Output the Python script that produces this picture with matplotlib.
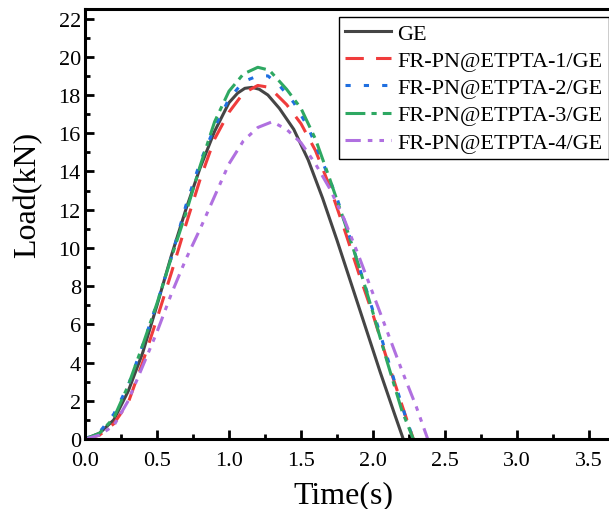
import matplotlib.pyplot as plt
from matplotlib.ticker import MultipleLocator

plt.rcParams['font.family'] = ['Liberation Serif', 'DejaVu Serif']

# values (time in s, load in kN)
t_ge = [0, 0.1, 0.2, 0.3, 0.4, 0.5, 0.6, 0.7, 0.8, 0.9, 1.0, 1.06, 1.11, 1.16,
        1.21, 1.27, 1.35, 1.45, 1.55, 1.65, 1.75, 1.85, 1.95, 2.05, 2.15, 2.21]
load_ge = [0, 0.3, 1.0, 2.5, 4.5, 7.0, 9.6, 12.0, 14.2, 16.1, 17.6, 18.1, 18.35, 18.4,
           18.3, 18.0, 17.3, 16.2, 14.6, 12.6, 10.4, 8.1, 5.8, 3.5, 1.3, 0]

t_fr1 = [0, 0.1, 0.2, 0.3, 0.4, 0.5, 0.6, 0.7, 0.8, 0.9, 1.0, 1.1, 1.2, 1.28,
         1.4, 1.5, 1.6, 1.7, 1.8, 1.9, 2.0, 2.1, 2.2, 2.28]
load_fr1 = [0, 0.2, 0.8, 1.9, 4.0, 6.3, 8.7, 11.2, 13.6, 15.7, 17.1, 18.1, 18.5, 18.4,
            17.5, 16.5, 15.1, 13.2, 11.0, 8.7, 6.5, 4.1, 1.8, 0]

t_fr2 = [0, 0.1, 0.2, 0.3, 0.4, 0.5, 0.6, 0.7, 0.8, 0.9, 1.0, 1.1, 1.2, 1.27,
         1.35, 1.45, 1.55, 1.65, 1.75, 1.85, 1.95, 2.05, 2.15, 2.22, 2.28]
load_fr2 = [0, 0.35, 1.3, 2.8, 4.9, 7.1, 9.5, 12.2, 14.5, 16.3, 17.8, 18.7, 19.0, 19.0,
            18.5, 17.6, 16.3, 14.5, 12.6, 10.3, 7.9, 5.5, 3.0, 1.3, 0]

t_fr3 = [0, 0.1, 0.2, 0.3, 0.4, 0.5, 0.6, 0.7, 0.8, 0.9, 1.0, 1.1, 1.2, 1.28,
         1.4, 1.5, 1.6, 1.7, 1.8, 1.9, 2.0, 2.1, 2.2, 2.28]
load_fr3 = [0, 0.3, 1.1, 2.8, 4.9, 7.1, 9.5, 11.8, 14.3, 16.6, 18.2, 19.1, 19.45, 19.3,
            18.3, 17.3, 15.7, 13.6, 11.4, 9.1, 6.6, 4.0, 1.5, 0]

t_fr4 = [0, 0.1, 0.2, 0.3, 0.4, 0.5, 0.6, 0.7, 0.8, 0.9, 1.0, 1.1, 1.2, 1.3,
         1.4, 1.5, 1.6, 1.7, 1.8, 1.9, 2.0, 2.1, 2.2, 2.3, 2.38]
load_fr4 = [0, 0.2, 0.7, 2.0, 3.8, 5.6, 7.6, 9.4, 11.0, 12.7, 14.4, 15.6, 16.3, 16.6,
            16.2, 15.5, 14.4, 13.1, 11.5, 9.6, 7.6, 5.6, 3.6, 1.7, 0]

labels = ['GE', 'FR-PN@ETPTA-1/GE', 'FR-PN@ETPTA-2/GE',
          'FR-PN@ETPTA-3/GE', 'FR-PN@ETPTA-4/GE']

fig = plt.figure(figsize=(6.09, 5.10), dpi=100)
ax = fig.add_axes([85 / 609, 70 / 510, 576 / 609, 430 / 510])

lw = 2.2
ax.plot(t_ge, load_ge, color='#454545', lw=lw, label=labels[0])
ax.plot(t_fr1, load_fr1, color='#f03c3c', lw=lw, dashes=(6, 4), label=labels[1])
ax.plot(t_fr2, load_fr2, color='#1f6fe0', lw=lw, dashes=(1.7, 4.3), label=labels[2])
ax.plot(t_fr3, load_fr3, color='#2ea862', lw=lw, dashes=(6.5, 2, 1.7, 2), label=labels[3])
ax.plot(t_fr4, load_fr4, color='#b070e0', lw=lw,
        dashes=(5, 2.3, 1.5, 2.3, 1.5, 2.3), label=labels[4])

ax.set_xlim(0, 4.0)
ax.set_ylim(0, 22.5)
ax.xaxis.set_minor_locator(MultipleLocator(0.25))
ax.yaxis.set_major_locator(MultipleLocator(2))
ax.yaxis.set_minor_locator(MultipleLocator(1))
ax.set_xticks([0, 0.5, 1.0, 1.5, 2.0, 2.5, 3.0, 3.5])
ax.set_xticklabels(['0.0', '0.5', '1.0', '1.5', '2.0', '2.5', '3.0', '3.5'])

for s in ax.spines.values():
    s.set_linewidth(2.2)
ax.spines['right'].set_visible(False)

ax.tick_params(which='major', direction='in', length=6.5, width=2, labelsize=16)
ax.tick_params(axis='y', which='major', pad=3)
ax.tick_params(axis='x', which='major', pad=9)
ax.tick_params(which='minor', direction='in', length=3.5, width=2)

ax.set_xlabel('Time(s)', fontsize=23)
ax.set_ylabel('Load(kN)', fontsize=23)
ax.xaxis.set_label_coords((343 - 85) / 576, -41 / 430)
ax.yaxis.set_label_coords((42 - 85) / 576, 0.57)

leg = ax.legend(loc='upper left', bbox_to_anchor=(339 / 609, 1 - 18 / 510),
                bbox_transform=fig.transFigure, borderaxespad=0, fontsize=16,
                frameon=True, fancybox=False, edgecolor='black', framealpha=1,
                handlelength=2.05, handletextpad=0.3, labelspacing=0.3,
                borderpad=0.28)
leg.get_frame().set_linewidth(1.0)

fig.savefig('out.png', dpi=100)
